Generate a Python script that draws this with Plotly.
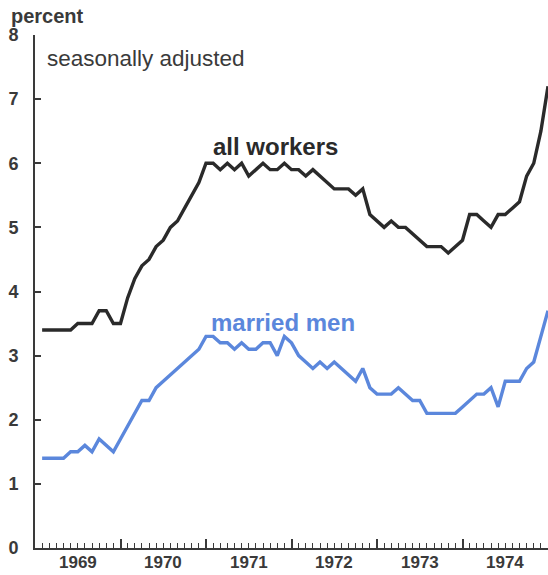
import plotly.graph_objects as go

years = ["1969", "1970", "1971", "1972", "1973", "1974"]

all_workers = [
    3.4, 3.4, 3.4, 3.4, 3.4, 3.5, 3.5, 3.5, 3.7, 3.7, 3.5, 3.5,   # 1969
    3.9, 4.2, 4.4, 4.5, 4.7, 4.8, 5.0, 5.1, 5.3, 5.5, 5.7, 6.0,   # 1970
    6.0, 5.9, 6.0, 5.9, 6.0, 5.8, 5.9, 6.0, 5.9, 5.9, 6.0, 5.9,   # 1971
    5.9, 5.8, 5.9, 5.8, 5.7, 5.6, 5.6, 5.6, 5.5, 5.6, 5.2, 5.1,   # 1972
    5.0, 5.1, 5.0, 5.0, 4.9, 4.8, 4.7, 4.7, 4.7, 4.6, 4.7, 4.8,   # 1973
    5.2, 5.2, 5.1, 5.0, 5.2, 5.2, 5.3, 5.4, 5.8, 6.0, 6.5, 7.2,   # 1974
]

married_men = [
    1.4, 1.4, 1.4, 1.4, 1.5, 1.5, 1.6, 1.5, 1.7, 1.6, 1.5, 1.7,   # 1969
    1.9, 2.1, 2.3, 2.3, 2.5, 2.6, 2.7, 2.8, 2.9, 3.0, 3.1, 3.3,   # 1970
    3.3, 3.2, 3.2, 3.1, 3.2, 3.1, 3.1, 3.2, 3.2, 3.0, 3.3, 3.2,   # 1971
    3.0, 2.9, 2.8, 2.9, 2.8, 2.9, 2.8, 2.7, 2.6, 2.8, 2.5, 2.4,   # 1972
    2.4, 2.4, 2.5, 2.4, 2.3, 2.3, 2.1, 2.1, 2.1, 2.1, 2.1, 2.2,   # 1973
    2.3, 2.4, 2.4, 2.5, 2.2, 2.6, 2.6, 2.6, 2.8, 2.9, 3.3, 3.7,   # 1974
]

y_ticks = [0, 1, 2, 3, 4, 5, 6, 7, 8]

months = list(range(1, len(all_workers) + 1))
year_bounds = [12 * i for i in range(len(years) + 1)]
year_mids = [12 * i + 6 for i in range(len(years))]

BLACK = "#2a2a2a"
BLUE = "#5b87dc"
AXIS = "#3a3a3a"
FONT = "Liberation Sans, Arial, sans-serif"

fig = go.Figure()
fig.add_trace(go.Scatter(x=months, y=all_workers, mode="lines",
                         line=dict(color=BLACK, width=3.4), hoverinfo="skip", cliponaxis=False))
fig.add_trace(go.Scatter(x=months, y=married_men, mode="lines",
                         line=dict(color=BLUE, width=3.4), hoverinfo="skip", cliponaxis=False))

fig.update_layout(
    width=548, height=575,
    margin=dict(l=35, r=0, t=35, b=27),
    paper_bgcolor="white", plot_bgcolor="white",
    showlegend=False,
    font=dict(family=FONT, color=AXIS),
)

fig.update_xaxes(
    range=[0, 72], showgrid=False, zeroline=False,
    showline=True, linecolor=AXIS, linewidth=2,
    tickmode="array", tickvals=year_bounds, ticktext=["" for _ in year_bounds],
    ticks="inside", ticklen=9, tickwidth=1.5, tickcolor=AXIS,
    minor=dict(dtick=1, tick0=0, ticks="inside", ticklen=5, tickwidth=1.2, tickcolor=AXIS, showgrid=False),
)
fig.update_yaxes(
    range=[0, 8], showgrid=False, zeroline=False,
    showline=True, linecolor=AXIS, linewidth=2,
    tickmode="array", tickvals=y_ticks, ticktext=[str(v) for v in y_ticks],
    ticks="inside", ticklen=6, tickwidth=1.5, tickcolor=AXIS,
    tickfont=dict(size=18, family=FONT, color=AXIS, weight="bold"),
    ticklabelstandoff=11,
)

for m, yr in zip(year_mids, years):
    fig.add_annotation(x=m, y=0, xref="x", yref="paper", text="<b>%s</b>" % yr,
                       showarrow=False, yanchor="top", yshift=-3,
                       font=dict(size=17, color=AXIS))

fig.add_annotation(x=0, y=1, xref="paper", yref="paper", xshift=-26, yshift=6,
                   text="<b>percent</b>", showarrow=False, xanchor="left", yanchor="bottom",
                   font=dict(size=20, color=AXIS))
fig.add_annotation(x=0, y=1, xref="paper", yref="paper", xshift=10, yshift=-9,
                   text="seasonally adjusted", showarrow=False, xanchor="left", yanchor="top",
                   font=dict(size=22.5, color=AXIS))
fig.add_annotation(x=33.8, y=6.02, xref="x", yref="y", text="<b>all workers</b>",
                   showarrow=False, xanchor="center", yanchor="bottom",
                   font=dict(size=24, color=BLACK))
fig.add_annotation(x=34.8, y=3.28, xref="x", yref="y", text="<b>married men</b>",
                   showarrow=False, xanchor="center", yanchor="bottom",
                   font=dict(size=24, color=BLUE))

# remove the browser's default page margin so the 548x575 figure fills the window exactly
fig.write_html(
    "out.html",
    config={"displayModeBar": False},
    post_script="document.body.style.margin='0';document.body.style.overflow='hidden';",
)
